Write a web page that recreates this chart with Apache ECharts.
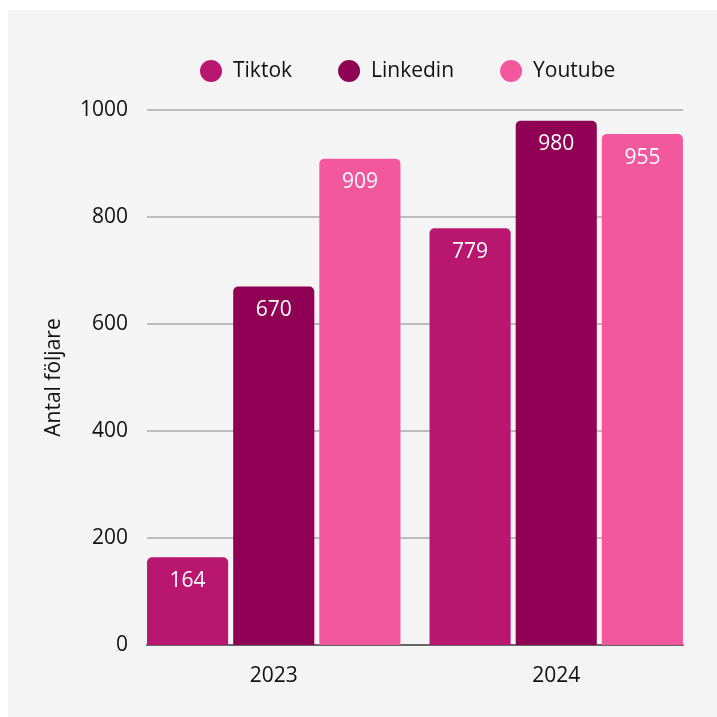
<!DOCTYPE html>
<html><head><meta charset="utf-8">
<script src="https://cdn.jsdelivr.net/npm/echarts@6/dist/echarts.min.js"></script>
<style>html,body{margin:0;padding:0;background:#fff}#bg{position:absolute;left:8px;top:10px;right:0;bottom:0;background:#f4f4f4}#c{position:absolute;left:0;top:0;width:717px;height:717px}</style>
</head><body><div id="bg"></div><div id="c"></div>
<script>
const categories = ['2023', '2024'];
const tiktok = [164, 779];
const linkedin = [670, 980];
const youtube = [909, 955];
const seriesNames = ['Tiktok', 'Linkedin', 'Youtube'];
const colors = ['#b8166f', '#8f0054', '#f3579e'];

const chart = echarts.init(document.getElementById('c'), null, {renderer: 'canvas'});
const font = '"Open Sans", sans-serif';
const FS = 21;
const label = {show: true, position: 'insideTop', distance: 13, color: '#fff', fontSize: FS, fontFamily: font};
function mk(name, data, i) {
  return {name, type: 'bar', xAxisIndex: 1, yAxisIndex: 1, data, barGap: '6.2%', barCategoryGap: '10.3%',
    itemStyle: {color: colors[i], borderRadius: [5, 5, 0, 0]}, label, silent: true};
}
chart.setOption({
  animation: false,
  backgroundColor: 'transparent',
  color: colors,
  legend: {
    left: 195, top: 55, itemWidth: 22, itemHeight: 22, icon: 'circle', itemGap: 46,
    textStyle: {fontSize: FS, fontFamily: font, color: '#111', padding: [0, 0, 0, 6]},
    data: seriesNames
  },
  grid: [
    {left: 147, right: 34, top: 110, bottom: 72},
    {left: 132.5, right: 19.5, top: 110, bottom: 72}
  ],
  xAxis: [
    {type: 'category', gridIndex: 0, data: categories,
     axisLine: {lineStyle: {color: '#666', width: 2}}, axisTick: {show: false},
     axisLabel: {show: false}},
    {type: 'category', gridIndex: 1, data: categories,
     axisLine: {show: false}, axisTick: {show: false},
     axisLabel: {fontSize: FS, fontFamily: font, color: '#111', margin: 21}}
  ],
  yAxis: [
    {type: 'value', gridIndex: 0, min: 0, max: 1000, interval: 200,
     name: 'Antal följare', nameLocation: 'middle', nameGap: 82, nameRotate: 90,
     nameTextStyle: {fontSize: FS, fontFamily: font, color: '#111'},
     axisLine: {show: false}, axisTick: {show: false},
     axisLabel: {fontSize: FS, fontFamily: font, color: '#111', margin: 19, padding: [4, 0, 0, 0], formatter: v => String(v)},
     splitLine: {lineStyle: {color: '#bcbcbc', width: 2}}},
    {type: 'value', gridIndex: 1, min: 0, max: 1000, interval: 200, show: false, splitLine: {show: false}}
  ],
  series: [mk('Tiktok', tiktok, 0), mk('Linkedin', linkedin, 1), mk('Youtube', youtube, 2)]
});
</script></body></html>
